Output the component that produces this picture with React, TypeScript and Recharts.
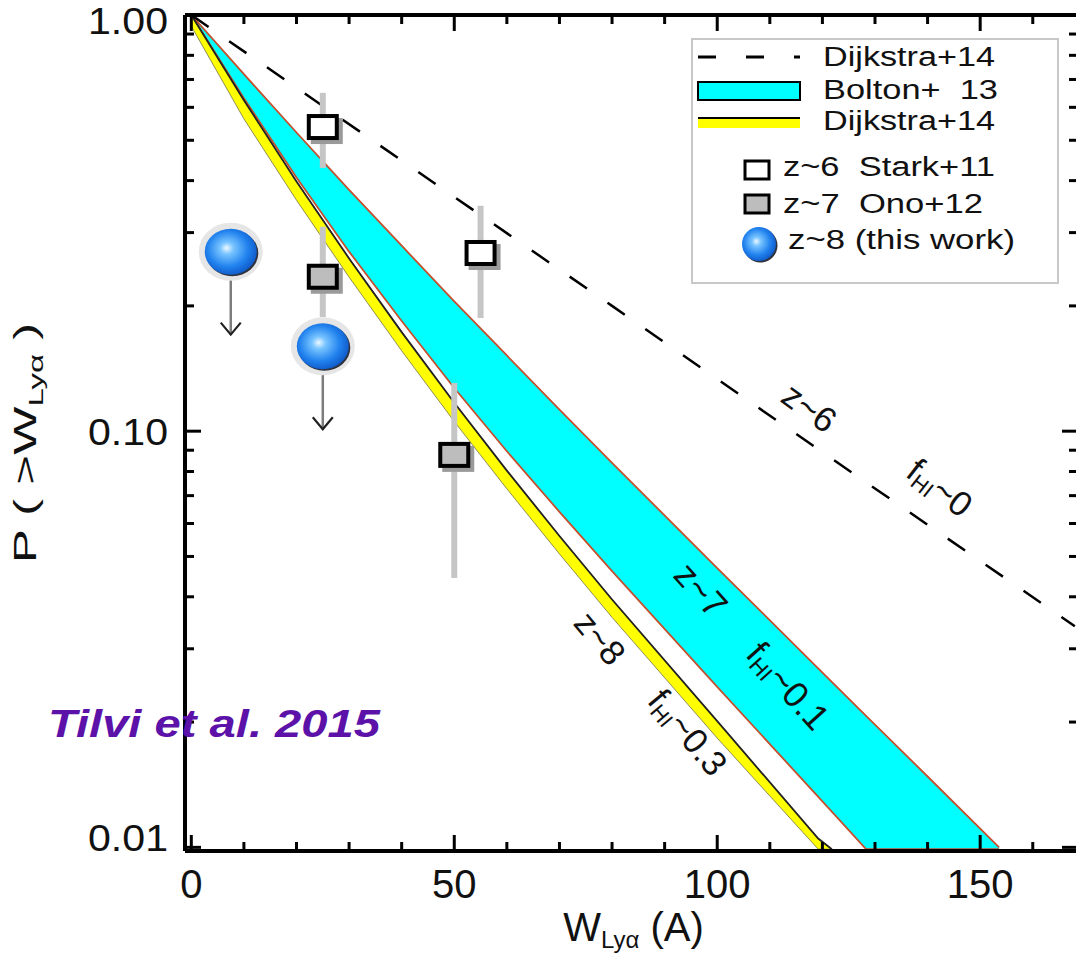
import React from 'react';
import { ComposedChart, Area, Line, Scatter, ErrorBar, XAxis, YAxis, Legend, ReferenceDot } from 'recharts';

const FONT = '"Liberation Sans", Arial, Helvetica, sans-serif';
const INK = '#111';

// z~6, f_HI~0 (Dijkstra+14, dashed)
const z6W = [0, 40, 80, 120, 168];
const z6P = [1.0, 0.447, 0.2, 0.089, 0.034];

// z~7, f_HI~0.1 band (Bolton+13)
const z7W = [0, 10, 20, 30, 40, 50, 60, 70, 80, 100, 120, 128.3, 140, 153.6];
const z7High = [1.0, 0.721, 0.522, 0.38, 0.279, 0.205, 0.152, 0.1127, 0.0839, 0.0469, 0.0263, 0.0207, 0.0148, 0.01];
const z7Low = [1.0, 0.631, 0.407, 0.27, 0.184, 0.127, 0.0895, 0.064, 0.0461, 0.0243, 0.0129, 0.0099, 0.0099, 0.0099];

// z~8, f_HI~0.3 band (Dijkstra+14)
const z8W = [0, 10, 20, 30, 40, 50, 60, 70, 80, 100, 119.2, 121.8];
const z8High = [1.0, 0.624, 0.398, 0.26, 0.173, 0.117, 0.0804, 0.056, 0.0394, 0.0201, 0.0105, 0.0099];
const z8Low = [0.94, 0.563, 0.359, 0.2345, 0.156, 0.1055, 0.0727, 0.0507, 0.0357, 0.0183, 0.0099, 0.0099];

// z~6 Stark+11
const starkW = [25, 55];
const starkP = [0.538, 0.268];
const starkLo = [0.429, 0.187];
const starkHi = [0.65, 0.348];

// z~7 Ono+12
const onoW = [25, 50];
const onoP = [0.235, 0.0877];
const onoLo = [0.188, 0.0444];
const onoHi = [0.31, 0.1305];

// z~8 upper limits (this work)
const tilviW = [7.5, 25];
const tilviP = [0.27, 0.16];

const xTicks = [0, 10, 20, 30, 40, 50, 60, 70, 80, 90, 100, 110, 120, 130, 140, 150, 160];
const xMajor = [0, 50, 100, 150];
const yTicks = [0.01, 0.02, 0.03, 0.04, 0.05, 0.06, 0.07, 0.08, 0.09, 0.1, 0.2, 0.3, 0.4, 0.5, 0.6, 0.7, 0.8, 0.9, 1];
const yMajor = [0.01, 0.1, 1];

const legendLabels = ['Dijkstra+14', 'Bolton+  13', 'Dijkstra+14', 'z~6  Stark+11', 'z~7  Ono+12', 'z~8 (this work)'];

const z6Data = z6W.map((w, i) => ({ w, p: z6P[i] }));
const z7Data = z7W.map((w, i) => ({ w, band: [z7Low[i], z7High[i]] }));
const z8Data = z8W.map((w, i) => ({ w, band: [z8Low[i], z8High[i]], hi: z8High[i] }));
const starkData = starkW.map((w, i) => ({ w, p: starkP[i], err: [starkP[i] - starkLo[i], starkHi[i] - starkP[i]] }));
const onoData = onoW.map((w, i) => ({ w, p: onoP[i], err: [onoP[i] - onoLo[i], onoHi[i] - onoP[i]] }));
const tilviData = tilviW.map((w, i) => ({ w, p: tilviP[i] }));

const isMajor = (list: number[], v: number) => list.some((m) => Math.abs(m - v) < 1e-9);

function BottomTick({ x, y, payload }: any) {
  const major = isMajor(xMajor, payload.value);
  return (
    <g>
      <line x1={x} y1={y} x2={x} y2={y - (major ? 16 : 9)} stroke="#000" strokeWidth={3} />
      {major && (
        <text x={x} y={y + 47} textAnchor="middle" fontFamily={FONT} fontSize={40} fill={INK}>
          {payload.value}
        </text>
      )}
    </g>
  );
}

function TopTick({ x, y, payload }: any) {
  const major = isMajor(xMajor, payload.value);
  return <line x1={x} y1={y} x2={x} y2={y + (major ? 16 : 9)} stroke="#000" strokeWidth={3} />;
}

function LeftTick({ x, y, payload }: any) {
  const v = payload.value;
  const major = isMajor(yMajor, v);
  const dy = v === 1 ? 19 : v === 0.01 ? 4 : 14;
  return (
    <g>
      <line x1={x} y1={y} x2={x + (major ? 16 : 9)} y2={y} stroke="#000" strokeWidth={3} />
      {major && (
        <text x={x - 17} y={y + dy} textAnchor="end" fontFamily={FONT} fontSize={37} fill={INK}
          textLength={80} lengthAdjust="spacingAndGlyphs">
          {v.toFixed(2)}
        </text>
      )}
    </g>
  );
}

function RightTick({ x, y, payload }: any) {
  const major = isMajor(yMajor, payload.value);
  return <line x1={x} y1={y} x2={x - (major ? 16 : 9)} y2={y} stroke="#000" strokeWidth={3} />;
}

function Sphere({ cx, cy, rx, ry, halo }: any) {
  return (
    <g>
      <defs>
        <radialGradient id="sphereFill" cx="45%" cy="45%" r="60%" fx="42%" fy="42%">
          <stop offset="0%" stopColor="#eef8ff" />
          <stop offset="22%" stopColor="#78c4ff" />
          <stop offset="65%" stopColor="#2182ee" />
          <stop offset="100%" stopColor="#0c55c4" />
        </radialGradient>
      </defs>
      {halo && <ellipse cx={cx} cy={cy} rx={rx + 6} ry={ry + 6} fill="#e6e6e6" />}
      <ellipse cx={cx + 1.5} cy={cy + 1.5} rx={rx} ry={ry} fill="#2f3340" />
      <ellipse cx={cx} cy={cy} rx={rx} ry={ry} fill="url(#sphereFill)" />
    </g>
  );
}

function UpperLimit({ cx, cy }: any) {
  return (
    <g>
      <line x1={cx} y1={cy + 26} x2={cx} y2={cy + 83} stroke="#7d7d7d" strokeWidth={2.5} />
      <polyline points={`${cx - 10},${cy + 71} ${cx},${cy + 83} ${cx + 10},${cy + 71}`} fill="none" stroke="#222" strokeWidth={2.2} />
      <Sphere cx={cx} cy={cy} rx={26} ry={23} halo />
    </g>
  );
}

function Square({ cx, cy, fill }: any) {
  return (
    <g>
      <rect x={cx - 12} y={cy - 9} width={32} height={26} fill="#9a9a9a" />
      <rect x={cx - 14} y={cy - 11} width={28} height={22} fill={fill} stroke="#000" strokeWidth={4} />
    </g>
  );
}

function LegendBox() {
  const txt = (x: number, y: number, i: number, len: number) => (
    <text x={x} y={y} fontFamily={FONT} fontSize={27} fill={INK} textLength={len}
      lengthAdjust="spacingAndGlyphs" style={{ whiteSpace: 'pre' }}>
      {legendLabels[i]}
    </text>
  );
  return (
    <svg width={370} height={248} style={{ display: 'block' }}>
      <rect x={2} y={1} width={366} height={244} fill="#fff" stroke="#c8c8c8" strokeWidth={2} />
      <line x1={8} y1={19} x2={110} y2={19} stroke="#000" strokeWidth={3} strokeDasharray="18 30" />
      {txt(133, 28, 0, 172)}
      <rect x={8} y={44} width={102} height={18} fill="#00ffff" stroke="#000" strokeWidth={2} />
      {txt(133, 61, 1, 175)}
      <rect x={8} y={81} width={102} height={9} fill="#ffff00" />
      <line x1={8} y1={80} x2={110} y2={80} stroke="#000" strokeWidth={2} />
      {txt(133, 92, 2, 172)}
      <rect x={55} y={123} width={24} height={18} fill="#fff" stroke="#000" strokeWidth={3} />
      {txt(93, 138, 3, 212)}
      <rect x={55} y={157} width={24} height={18} fill="#bdbdbd" stroke="#000" strokeWidth={3} />
      {txt(93, 175, 4, 200)}
      <Sphere cx={69} cy={206} rx={17} ry={17} />
      {txt(98, 211, 5, 227)}
    </svg>
  );
}

function RotLabel({ cx, cy, angle, main, sub, tail, size }: any) {
  return (
    <text transform={`translate(${cx},${cy}) rotate(${angle})`} textAnchor="middle" dominantBaseline="middle"
      fontFamily={FONT} fontSize={size} fill={INK}>
      {main}
      {sub && <tspan fontSize={size * 0.62} dy={8}>{sub}</tspan>}
      {tail && <tspan dy={sub ? -8 : 0}>{tail}</tspan>}
    </text>
  );
}

export default function App() {
  return (
    <div style={{ position: 'absolute', left: 0, top: 0, width: 1076, height: 956, overflow: 'hidden', background: '#fff' }}>
      <ComposedChart width={1080} height={956} margin={{ top: 14, right: 1, bottom: 104, left: 184 }}>
        <XAxis xAxisId="w" dataKey="w" type="number" domain={[-1.2, 168.6]} ticks={xTicks} interval={0}
          allowDataOverflow height={1} tickSize={0} tickMargin={0} tickLine={false}
          axisLine={{ stroke: '#000', strokeWidth: 4 }} tick={<BottomTick />}
          label={{
            content: ({ viewBox }: any) => (
              <text x={viewBox.x + viewBox.width / 2 + 2} y={viewBox.y + 90} textAnchor="middle"
                fontFamily={FONT} fontSize={40} fill={INK}>
                W<tspan fontSize={24} dy={7}>Lyα</tspan><tspan dy={-7}> (A)</tspan>
              </text>
            ),
          }} />
        <XAxis xAxisId="wTop" dataKey="w" type="number" orientation="top" domain={[-1.2, 168.6]} ticks={xTicks}
          interval={0} allowDataOverflow height={1} tickSize={0} tickMargin={0} tickLine={false}
          axisLine={{ stroke: '#000', strokeWidth: 4 }} tick={<TopTick />} />
        <YAxis yAxisId="p" scale="log" type="number" domain={[0.0098, 1]} ticks={yTicks} interval={0}
          allowDataOverflow width={1} tickSize={0} tickMargin={0} tickLine={false}
          axisLine={{ stroke: '#000', strokeWidth: 4 }} tick={<LeftTick />}
          label={{
            content: ({ viewBox }: any) => {
              const tx = viewBox.x - 148;
              const ty = viewBox.y + viewBox.height / 2 + 10;
              return (
                <text transform={`translate(${tx},${ty}) rotate(-90) scale(1.65,1)`} textAnchor="middle"
                  fontFamily={FONT} fontSize={31} fill={INK} style={{ whiteSpace: 'pre' }}>
                  {'P ( >W'}<tspan fontSize={20} dy={7}>Lyα</tspan><tspan dy={-7}>{' )'}</tspan>
                </text>
              );
            },
          }} />
        <YAxis yAxisId="pRight" orientation="right" scale="log" type="number" domain={[0.0098, 1]} ticks={yTicks}
          interval={0} allowDataOverflow width={1} tickSize={0} tickMargin={0} tickLine={false}
          axisLine={{ stroke: '#000', strokeWidth: 4 }} tick={<RightTick />} />

        <Area xAxisId="w" yAxisId="p" data={z7Data} dataKey="band" type="linear" fill="#00ffff" fillOpacity={1}
          stroke="#c4502e" strokeWidth={1.8} isAnimationActive={false} />
        <Area xAxisId="w" yAxisId="p" data={z8Data} dataKey="band" type="linear" fill="#ffff00" fillOpacity={1}
          stroke="#8f8f55" strokeWidth={1} isAnimationActive={false} />
        <Line xAxisId="w" yAxisId="p" data={z8Data} dataKey="hi" type="linear" stroke="#222" strokeWidth={1.8}
          dot={false} isAnimationActive={false} />
        <Line xAxisId="w" yAxisId="p" data={z6Data} dataKey="p" type="linear" stroke="#000" strokeWidth={2.5}
          strokeDasharray="21 25" dot={false} isAnimationActive={false} />

        <Scatter xAxisId="w" yAxisId="p" data={starkData} dataKey="p" isAnimationActive={false}
          shape={(props: any) => <Square {...props} fill="#fff" />}>
          <ErrorBar dataKey="err" direction="y" width={0} stroke="#c6c6c6" strokeWidth={6} />
        </Scatter>
        <Scatter xAxisId="w" yAxisId="p" data={onoData} dataKey="p" isAnimationActive={false}
          shape={(props: any) => <Square {...props} fill="#bdbdbd" />}>
          <ErrorBar dataKey="err" direction="y" width={0} stroke="#c6c6c6" strokeWidth={6} />
        </Scatter>
        <Scatter xAxisId="w" yAxisId="p" data={tilviData} dataKey="p" isAnimationActive={false}
          shape={(props: any) => <UpperLimit {...props} />} />

        <ReferenceDot xAxisId="w" yAxisId="p" x={117.2} y={0.1124} r={0}
          shape={(p: any) => <RotLabel {...p} angle={36} main="z~6" size={35} />} />
        <ReferenceDot xAxisId="w" yAxisId="p" x={142} y={0.0722} r={0}
          shape={(p: any) => <RotLabel {...p} angle={38} main="f" sub="HI" tail="~0" size={35} />} />
        <ReferenceDot xAxisId="w" yAxisId="p" x={96.5} y={0.0411} r={0}
          shape={(p: any) => <RotLabel {...p} angle={48} main="z~7" size={36} />} />
        <ReferenceDot xAxisId="w" yAxisId="p" x={113.1} y={0.0242} r={0}
          shape={(p: any) => <RotLabel {...p} angle={48} main="f" sub="HI" tail="~0.1" size={36} />} />
        <ReferenceDot xAxisId="w" yAxisId="p" x={77.3} y={0.0315} r={0}
          shape={(p: any) => <RotLabel {...p} angle={50} main="z~8" size={35} />} />
        <ReferenceDot xAxisId="w" yAxisId="p" x={94} y={0.0187} r={0}
          shape={(p: any) => <RotLabel {...p} angle={50} main="f" sub="HI" tail="~0.3" size={35} />} />

        <Legend layout="vertical" align="center" verticalAlign="middle"
          wrapperStyle={{ position: 'absolute', left: 690, top: 38, width: 370, height: 248 }}
          content={() => <LegendBox />} />
      </ComposedChart>
      <svg width={1076} height={956} style={{ position: 'absolute', left: 0, top: 0, pointerEvents: 'none' }}>
        <text x={48} y={737} fontFamily={FONT} fontSize={38} fontWeight="bold" fontStyle="italic" fill="#5c12a8"
          textLength={332} lengthAdjust="spacingAndGlyphs">
          Tilvi et al. 2015
        </text>
      </svg>
    </div>
  );
}
